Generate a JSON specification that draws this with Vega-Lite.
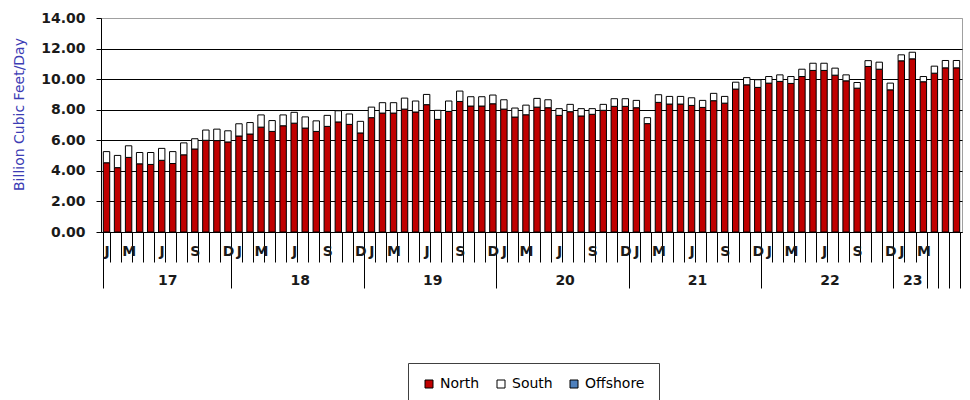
{
  "$schema": "https://vega.github.io/schema/vega-lite/v6.json",
  "width": 861,
  "height": 214,
  "autosize": {"type": "none"},
  "padding": {"left": 101, "top": 18, "right": 8, "bottom": 168},
  "background": "white",
  "config": {"view": {"stroke": "#a0a0a0", "strokeWidth": 1}, "font": "DejaVu Sans"},
  "data": {"values": [
    {"m": "2017-01", "North": 4.53, "South": 0.73},
    {"m": "2017-02", "North": 4.21, "South": 0.80},
    {"m": "2017-03", "North": 4.88, "South": 0.76},
    {"m": "2017-04", "North": 4.46, "South": 0.74},
    {"m": "2017-05", "North": 4.42, "South": 0.78},
    {"m": "2017-06", "North": 4.69, "South": 0.78},
    {"m": "2017-07", "North": 4.48, "South": 0.78},
    {"m": "2017-08", "North": 5.05, "South": 0.78},
    {"m": "2017-09", "North": 5.43, "South": 0.67},
    {"m": "2017-10", "North": 6.00, "South": 0.67},
    {"m": "2017-11", "North": 5.98, "South": 0.75},
    {"m": "2017-12", "North": 5.89, "South": 0.73},
    {"m": "2018-01", "North": 6.28, "South": 0.80},
    {"m": "2018-02", "North": 6.41, "South": 0.75},
    {"m": "2018-03", "North": 6.86, "South": 0.80},
    {"m": "2018-04", "North": 6.58, "South": 0.71},
    {"m": "2018-05", "North": 6.95, "South": 0.71},
    {"m": "2018-06", "North": 7.12, "South": 0.71},
    {"m": "2018-07", "North": 6.80, "South": 0.73},
    {"m": "2018-08", "North": 6.58, "South": 0.69},
    {"m": "2018-09", "North": 6.91, "South": 0.72},
    {"m": "2018-10", "North": 7.20, "South": 0.73},
    {"m": "2018-11", "North": 7.04, "South": 0.68},
    {"m": "2018-12", "North": 6.48, "South": 0.76},
    {"m": "2019-01", "North": 7.48, "South": 0.69},
    {"m": "2019-02", "North": 7.78, "South": 0.68},
    {"m": "2019-03", "North": 7.78, "South": 0.68},
    {"m": "2019-04", "North": 8.04, "South": 0.72},
    {"m": "2019-05", "North": 7.85, "South": 0.72},
    {"m": "2019-06", "North": 8.33, "South": 0.67},
    {"m": "2019-07", "North": 7.37, "South": 0.59},
    {"m": "2019-08", "North": 7.89, "South": 0.68},
    {"m": "2019-09", "North": 8.54, "South": 0.68},
    {"m": "2019-10", "North": 8.24, "South": 0.61},
    {"m": "2019-11", "North": 8.24, "South": 0.61},
    {"m": "2019-12", "North": 8.39, "South": 0.57},
    {"m": "2020-01", "North": 8.04, "South": 0.61},
    {"m": "2020-02", "North": 7.52, "South": 0.59},
    {"m": "2020-03", "North": 7.67, "South": 0.63},
    {"m": "2020-04", "North": 8.17, "South": 0.57},
    {"m": "2020-05", "North": 8.13, "South": 0.52},
    {"m": "2020-06", "North": 7.63, "South": 0.44},
    {"m": "2020-07", "North": 7.87, "South": 0.48},
    {"m": "2020-08", "North": 7.59, "South": 0.48},
    {"m": "2020-09", "North": 7.70, "South": 0.37},
    {"m": "2020-10", "North": 7.96, "South": 0.39},
    {"m": "2020-11", "North": 8.22, "South": 0.50},
    {"m": "2020-12", "North": 8.22, "South": 0.50},
    {"m": "2021-01", "North": 8.13, "South": 0.48},
    {"m": "2021-02", "North": 7.09, "South": 0.39},
    {"m": "2021-03", "North": 8.48, "South": 0.50},
    {"m": "2021-04", "North": 8.37, "South": 0.50},
    {"m": "2021-05", "North": 8.37, "South": 0.50},
    {"m": "2021-06", "North": 8.28, "South": 0.50},
    {"m": "2021-07", "North": 8.15, "South": 0.46},
    {"m": "2021-08", "North": 8.59, "South": 0.48},
    {"m": "2021-09", "North": 8.43, "South": 0.44},
    {"m": "2021-10", "North": 9.35, "South": 0.45},
    {"m": "2021-11", "North": 9.63, "South": 0.47},
    {"m": "2021-12", "North": 9.46, "South": 0.50},
    {"m": "2022-01", "North": 9.74, "South": 0.43},
    {"m": "2022-02", "North": 9.85, "South": 0.43},
    {"m": "2022-03", "North": 9.72, "South": 0.45},
    {"m": "2022-04", "North": 10.17, "South": 0.48},
    {"m": "2022-05", "North": 10.57, "South": 0.47},
    {"m": "2022-06", "North": 10.57, "South": 0.47},
    {"m": "2022-07", "North": 10.26, "South": 0.46},
    {"m": "2022-08", "North": 9.89, "South": 0.39},
    {"m": "2022-09", "North": 9.41, "South": 0.37},
    {"m": "2022-10", "North": 10.83, "South": 0.38},
    {"m": "2022-11", "North": 10.65, "South": 0.46},
    {"m": "2022-12", "North": 9.30, "South": 0.44},
    {"m": "2023-01", "North": 11.20, "South": 0.39},
    {"m": "2023-02", "North": 11.33, "South": 0.43},
    {"m": "2023-03", "North": 9.83, "South": 0.34},
    {"m": "2023-04", "North": 10.39, "South": 0.46},
    {"m": "2023-05", "North": 10.74, "South": 0.48},
    {"m": "2023-06", "North": 10.74, "South": 0.48}
  ]},
  "transform": [{"fold": ["North", "South"], "as": ["series", "value"]}],
  "mark": {"type": "bar", "stroke": "black", "strokeWidth": 1},
  "encoding": {
    "x": {
      "field": "m",
      "type": "ordinal",
      "sort": null,
      "scale": {"paddingInner": 0.42, "paddingOuter": 0.21},
      "axis": {
        "title": null,
        "grid": false,
        "tickBand": "extent",
        "domainColor": "black",
        "tickColor": "black",
        "tickSize": {"condition": {"test": "!isValid(datum.value) || substring(datum.value,5,7)=='12' || datum.value=='2023-03' || datum.value=='2023-04' || datum.value=='2023-05' || datum.value=='2023-06'", "value": 56}, "value": 30},
        "labelExpr": "datum.value=='2023-02' ? '23' : substring(datum.value,5,7)=='07' ? substring(datum.value,2,4) : datum.value=='2023-06' ? '' : substring(datum.value,5,7)=='01' ? 'J' : substring(datum.value,5,7)=='03' ? 'M' : substring(datum.value,5,7)=='06' ? 'J' : substring(datum.value,5,7)=='09' ? 'S' : substring(datum.value,5,7)=='12' ? 'D' : ''",
        "labelAngle": 0,
        "labelFont": "DejaVu Sans",
        "labelFontSize": 14,
        "labelFontWeight": "bold",
        "labelColor": "#1a1a1a",
        "labelOverlap": false,
        "labelBound": false,
        "labelFlush": false,
        "labelPadding": {"condition": [
          {"test": "substring(datum.value,5,7)=='07' || datum.value=='2023-02'", "value": 11},
          {"test": "substring(datum.value,5,7)=='12' || datum.value=='2023-03'", "value": -44}
        ], "value": -18},
        "labelOffset": {"condition": {"test": "substring(datum.value,5,7)=='07'", "value": -5.52}, "value": 0}
      }
    },
    "y": {
      "field": "value",
      "type": "quantitative",
      "stack": "zero",
      "scale": {"domain": [0, 14], "nice": false},
      "axis": {
        "title": "Billion Cubic Feet/Day",
        "values": [0, 2, 4, 6, 8, 10, 12, 14],
        "format": ".2f",
        "grid": true,
        "gridColor": {"condition": {"test": "datum.value==14", "value": "#a0a0a0"}, "value": "black"},
        "gridOpacity": 1,
        "domainColor": "black",
        "tickColor": "black",
        "tickSize": 5,
        "labelFont": "DejaVu Sans",
        "labelFontSize": 14,
        "labelFontWeight": "bold",
        "labelColor": "#1a1a1a",
        "labelPadding": 11,
        "titleFont": "DejaVu Sans",
        "titleFontSize": 14,
        "titleFontWeight": "normal",
        "titleColor": "#3c3cb4",
        "titleX": -75,
        "titleY": 96
      }
    },
    "order": {"field": "series", "sort": "ascending"},
    "color": {
      "field": "series",
      "type": "nominal",
      "scale": {"domain": ["North", "South", "Offshore"], "range": ["#C00000", "#FFFFFF", "#4F81BD"]},
      "legend": {
        "title": null,
        "orient": "none",
        "legendX": 307,
        "legendY": 345,
        "direction": "horizontal",
        "strokeColor": "#404040",
        "padding": 14,
        "symbolType": "square",
        "symbolSize": 64,
        "symbolStrokeColor": "black",
        "symbolStrokeWidth": 1,
        "symbolOpacity": 1,
        "labelFont": "DejaVu Sans",
        "labelFontSize": 14,
        "labelColor": "black",
        "labelOffset": 4,
        "columnPadding": 14
      }
    }
  }
}
